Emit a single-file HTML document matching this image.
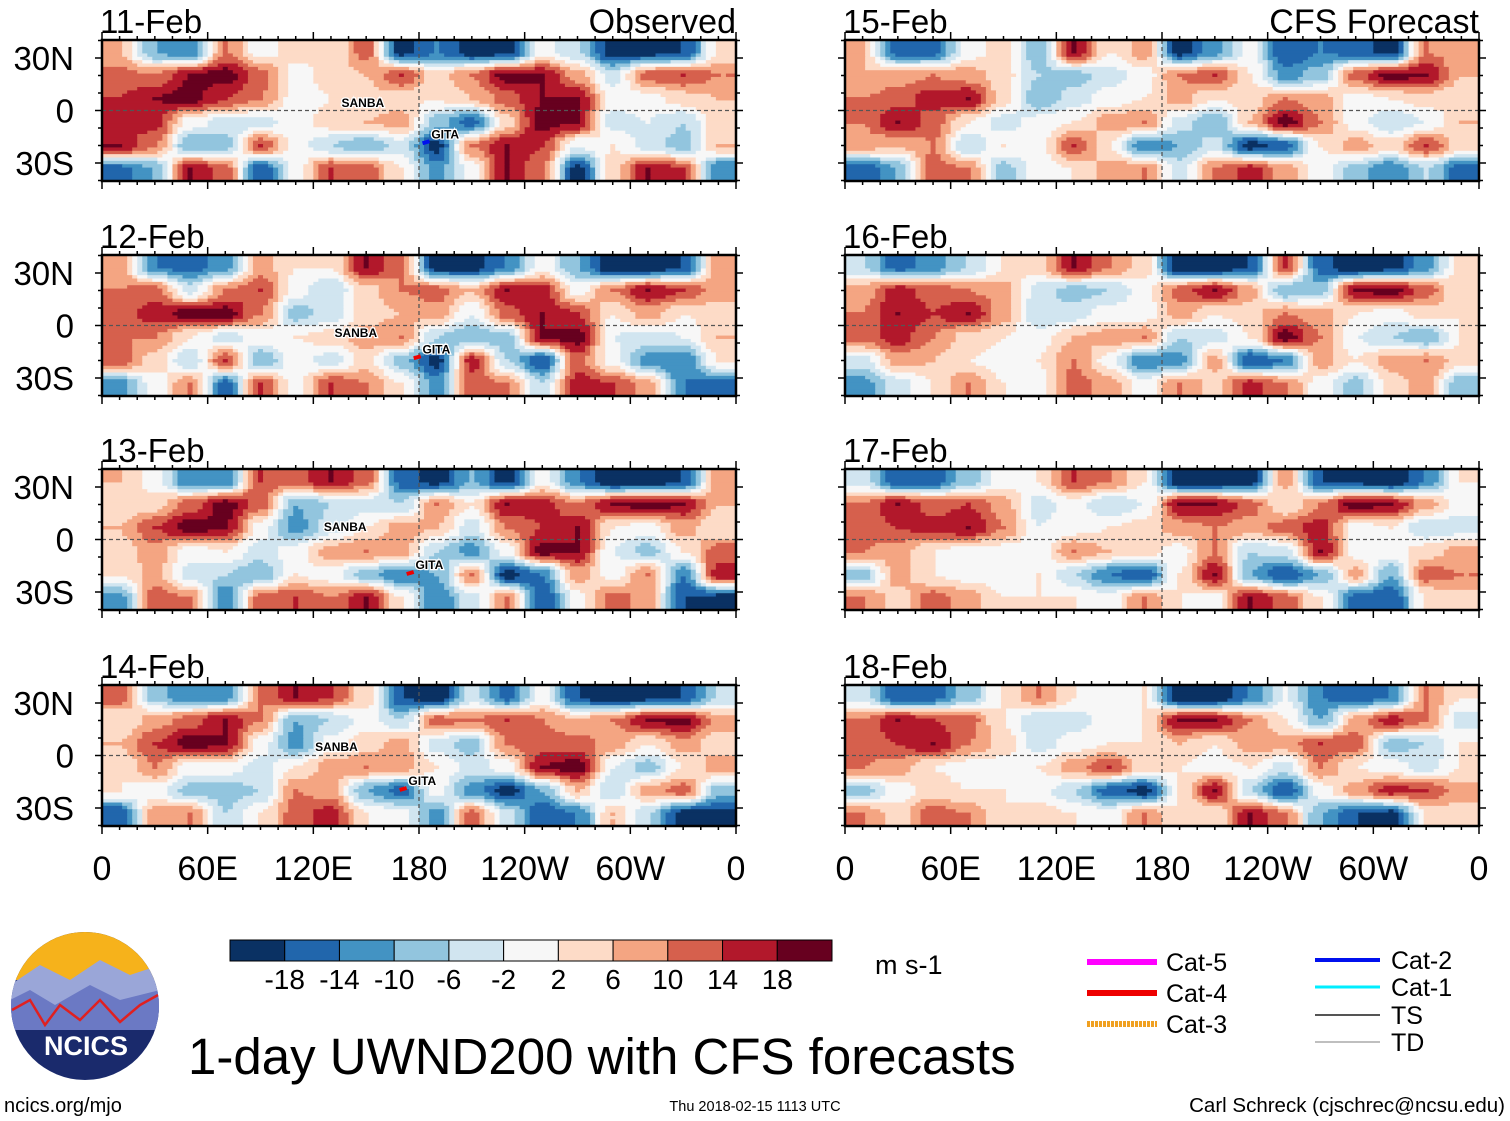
<!DOCTYPE html>
<html><head><meta charset="utf-8"><style>
html,body{margin:0;padding:0;background:#fff;}
svg{display:block;font-family:"Liberation Sans",Arial,sans-serif;}
</style></head><body>
<svg id="fig" width="1510" height="1121" viewBox="0 0 1510 1121" xmlns="http://www.w3.org/2000/svg">
<g id="panels"></g>
<g id="cbar"></g>
<g>
 <defs><clipPath id="lc"><circle cx="85" cy="1006" r="74"/></clipPath></defs>
 <circle cx="85" cy="1006" r="74" fill="#1a2a6c"/>
 <g clip-path="url(#lc)">
  <rect x="10" y="930" width="150" height="50" fill="#f6b21b"/>
  <path d="M10 985 L40 965 L70 980 L100 960 L130 975 L160 965 L160 1010 L10 1010Z" fill="#9aa6d8"/>
  <path d="M10 1000 L30 990 L55 1005 L90 985 L120 1000 L160 990 L160 1030 L10 1030Z" fill="#6b79c4"/>
  <path d="M12 1010 L30 1000 L45 1025 L60 1005 L80 1020 L100 1000 L120 1022 L140 1005 L158 995" fill="none" stroke="#e02020" stroke-width="2.5"/>
 </g>
 <text x="86" y="1055" font-size="27" font-weight="bold" fill="#fff" text-anchor="middle">NCICS</text>
</g>
<text x="188" y="1074" font-size="51">1-day UWND200 with CFS forecasts</text>
<text x="875" y="974" font-size="27">m s-1</text>
<g>
 <line x1="1087" y1="962" x2="1157" y2="962" stroke="#ff00ff" stroke-width="6"/>
 <text x="1166" y="971" font-size="25">Cat-5</text>
 <line x1="1087" y1="993" x2="1157" y2="993" stroke="#ee0000" stroke-width="6"/>
 <text x="1166" y="1002" font-size="25">Cat-4</text>
 <line x1="1087" y1="1024" x2="1157" y2="1024" stroke="#f0a020" stroke-width="6" stroke-dasharray="3 1"/>
 <text x="1166" y="1033" font-size="25">Cat-3</text>
 <line x1="1315" y1="960" x2="1380" y2="960" stroke="#0010ee" stroke-width="4"/>
 <text x="1391" y="969" font-size="25">Cat-2</text>
 <line x1="1315" y1="987" x2="1380" y2="987" stroke="#00eeff" stroke-width="3"/>
 <text x="1391" y="996" font-size="25">Cat-1</text>
 <line x1="1315" y1="1015" x2="1380" y2="1015" stroke="#555" stroke-width="2"/>
 <text x="1391" y="1024" font-size="25">TS</text>
 <line x1="1315" y1="1042" x2="1380" y2="1042" stroke="#aaa" stroke-width="1.5"/>
 <text x="1391" y="1051" font-size="25">TD</text>
</g>
<text x="4" y="1112" font-size="20">ncics.org/mjo</text>
<text x="755" y="1111" font-size="14.5" text-anchor="middle">Thu 2018-02-15 1113 UTC</text>
<text x="1505" y="1112" font-size="20.5" text-anchor="end">Carl Schreck (cjschrec@ncsu.edu)</text>
</svg>
<script>
// 20-degree longitude columns (0E..360), 6 latitude rows (40N..40S); values in m/s
const dates = ["11-Feb","12-Feb","13-Feb","14-Feb","15-Feb","16-Feb","17-Feb","18-Feb"];
const f11 = [
[6,-10,-14,10,0,4,2,12,-20,-14,-20,-20,0,-6,-20,-20,-18,2],
[12,10,18,20,12,0,4,6,14,4,10,20,18,8,-4,12,14,10],
[14,18,20,14,10,0,2,4,4,2,6,12,18,18,0,0,4,6],
[14,16,0,-4,-4,0,4,6,8,-8,-16,4,20,18,-4,-2,-6,4],
[18,10,-10,-8,14,0,-6,-10,-4,-20,10,18,14,-2,2,-4,-8,6],
[-16,-10,18,12,-18,0,14,12,2,-12,0,18,10,-20,4,18,14,-14]];
const f12 = [
[8,-14,-16,-12,8,2,2,18,10,-20,-20,-14,0,-10,-22,-22,-18,8],
[10,12,-4,10,14,0,-6,4,10,12,6,18,16,0,10,18,14,8],
[12,16,20,20,10,-8,-4,4,6,8,-2,12,18,14,2,8,2,4],
[10,10,2,-4,0,2,4,8,10,-6,-10,-8,18,20,-2,-4,-2,6],
[12,4,-6,14,-10,0,-4,4,-8,-20,16,-6,-18,12,0,-12,-14,2],
[-12,0,10,-16,14,0,14,10,2,-12,12,10,-6,16,14,8,-14,-16]];
const f13 = [
[6,0,-14,-14,14,12,18,12,-16,-20,-10,-20,0,-14,-22,-22,-18,8],
[2,4,12,20,12,-10,-6,-4,-6,10,2,18,16,10,18,20,18,6],
[6,14,20,18,0,-12,-4,2,8,6,-4,10,14,18,2,0,8,2],
[4,8,0,2,-4,0,8,10,8,-6,-12,0,20,18,-2,-8,2,12],
[2,8,-4,-6,-10,2,0,-8,-14,-10,10,-20,-14,8,0,10,-14,16],
[-12,12,10,-14,12,14,10,18,2,-14,-4,10,-18,0,12,8,-18,-20]];
const f14 = [
[12,-8,-14,-12,10,18,14,4,-18,-22,-4,-16,0,-18,-22,-20,-18,-6],
[2,8,12,18,10,-10,-6,0,-6,12,10,14,10,6,10,18,20,8],
[6,14,20,18,0,-12,0,4,8,-4,-8,10,12,12,8,2,8,4],
[2,10,0,0,-4,2,8,10,8,2,-4,0,18,20,-2,-8,2,8],
[2,0,-8,-8,-6,10,8,-10,-16,0,-12,-20,-10,6,-6,8,12,-8],
[-18,8,10,-6,2,12,16,2,0,-12,12,-4,-18,-14,6,-6,-20,-20]];
const f15 = [
[6,-16,-16,0,4,-10,18,2,8,-20,-12,0,-18,-14,-16,-20,10,8],
[6,8,10,8,4,-6,-8,-4,0,10,14,2,-12,-8,12,20,18,6],
[10,12,16,18,4,-10,-4,0,2,8,2,4,10,8,0,2,4,2],
[10,18,12,2,-4,0,2,8,10,-4,-10,6,20,10,0,-6,-2,6],
[8,6,10,-6,2,0,14,2,-14,-10,-4,-20,-16,2,8,4,14,4],
[-18,-10,12,10,-8,0,2,8,10,-4,10,16,8,0,-8,-14,-6,-16]];
const f16 = [
[-6,-16,-12,-6,2,4,18,10,4,-22,-22,-18,14,-16,-22,-20,-12,4],
[8,16,12,10,8,-4,-8,-6,0,12,18,8,-10,-8,18,20,12,2],
[10,18,14,18,8,-6,-4,0,0,8,2,4,10,8,2,0,4,2],
[12,16,10,4,2,0,6,8,10,-6,-4,2,20,10,-2,-6,-10,2],
[-4,8,6,2,0,2,10,0,-14,-12,8,-18,-14,8,2,8,10,4],
[-12,-4,2,10,2,0,12,8,0,10,4,16,10,0,-8,4,8,-10]];
const f17 = [
[-4,-18,-16,-8,0,2,14,10,2,-22,-22,-20,8,-18,-20,-22,-14,2],
[10,18,12,14,8,-4,0,-6,-2,18,18,12,2,10,20,18,8,0],
[12,14,16,18,10,-2,0,2,4,8,10,8,12,16,0,2,-6,-4],
[10,8,2,0,0,0,10,6,4,0,10,-6,-4,18,0,0,4,8],
[-8,8,2,0,0,2,-6,-14,-18,2,18,-10,-18,-10,8,-10,12,10],
[10,4,12,8,2,2,2,0,10,2,0,18,12,2,-16,-18,2,4]];
const f18 = [
[-4,-18,-16,-8,2,10,2,0,2,-22,-22,-14,-2,-14,-18,-14,10,2],
[10,18,14,12,2,-6,-4,0,2,18,18,10,2,-10,8,16,10,-4],
[12,14,18,10,4,-4,0,2,2,6,2,8,8,14,12,-8,-6,2],
[10,8,2,0,0,2,8,14,4,2,0,2,-4,10,2,0,-4,2],
[-8,0,4,2,2,0,-6,-16,-20,2,18,-6,-18,0,8,16,14,8],
[10,4,12,10,2,4,2,0,10,2,2,18,10,-10,-18,-20,2,4]];
const fields = [f11,f12,f13,f14,f15,f16,f17,f18];
const levels = [-18,-14,-10,-6,-2,2,6,10,14,18];
const cbLabels = ["-18","-14","-10","-6","-2","2","6","10","14","18"];
const lonTicks = ["0","60E","120E","180","120W","60W","0"];
const latTicks = ["30N","0","30S"];
const latTickVals = [30,0,-30];

const colors = ["#0a3163","#2166ac","#4393c3","#92c5de","#d1e5f0","#f7f7f7","#fddbc7","#f4a582","#d6604d","#b2182b","#67001f"];
const NS="http://www.w3.org/2000/svg";
function mk(tag,attrs,parent){const e=document.createElementNS(NS,tag);for(const k in attrs)e.setAttribute(k,attrs[k]);parent.appendChild(e);return e;}
function colorOf(v){let i=0;while(i<levels.length&&v>=levels[i])i++;return colors[i];}
function sstep(t){return t*t*(3-2*t);}

const PW=634, PH=141;
const panelX=[102,845], panelY=[40,255,469,685];
function xScale(px,lon){return px+lon/360*PW;}
function yScale(py,lat){return py+PH/2-lat/30*52.5;}

const root=document.getElementById('panels');
dates.forEach((d,k)=>{
  const px=panelX[k<4?0:1], py=panelY[k%4];
  const data=fields[k];
  const g=mk('g',{},root);
  
  
  const nc=data[0].length, nr=data.length;
  const cw=PW/nc, rh=PH/nr, S=7;
  const subW=cw/S, subH=rh/S;
  const val=(r,c)=>data[Math.max(0,Math.min(nr-1,r))][Math.max(0,Math.min(nc-1,c))];
  for(let j=0;j<nr*S;j++){
    const fy=(j+0.5)/S-0.5, r0=Math.floor(fy), ty=sstep(fy-r0);
    let runStart=0, runCol=null;
    for(let i=0;i<=nc*S;i++){
      let col=null;
      if(i<nc*S){
        const fx=(i+0.5)/S-0.5, c0=Math.floor(fx), tx=sstep(fx-c0);
        const v=(1-ty)*((1-tx)*val(r0,c0)+tx*val(r0,c0+1))+ty*((1-tx)*val(r0+1,c0)+tx*val(r0+1,c0+1));
        col=colorOf(v);
      }
      if(col!==runCol){
        if(runCol!==null){
          const cell=mk('rect',{x:(px+runStart*subW).toFixed(2),y:(py+j*subH).toFixed(2),width:((i-runStart)*subW+0.6).toFixed(2),height:(subH+0.6).toFixed(2),fill:runCol},g);
          
          
        }
        runStart=i; runCol=col;
      }
    }
  }
  const eq=mk('line',{x1:px,x2:px+PW,y1:yScale(py,0),y2:yScale(py,0),stroke:'#555','stroke-width':1.3,'stroke-dasharray':'4 3'},g);
  
  
  const dl=mk('line',{x1:xScale(px,180),x2:xScale(px,180),y1:py,y2:py+PH,stroke:'#555','stroke-width':1.3,'stroke-dasharray':'4 3'},g);
  
  
  const fr=mk('rect',{x:px,y:py,width:PW,height:PH,fill:'none',stroke:'#000','stroke-width':2.5},g);
  
  
  for(let lon=0;lon<=360;lon+=10){
    const x=xScale(px,lon), L=lon%60===0?8:4;
    mk('line',{x1:x,x2:x,y1:py+PH,y2:py+PH+L,stroke:'#000','stroke-width':1.5},g);
    mk('line',{x1:x,x2:x,y1:py,y2:py-L,stroke:'#000','stroke-width':1.5},g);
  }
  for(let lat=-40;lat<=40;lat+=10){
    const y=yScale(py,lat), L=lat%30===0?7:4;
    mk('line',{x1:px,x2:px-L,y1:y,y2:y,stroke:'#000','stroke-width':1.5},g);
    mk('line',{x1:px+PW,x2:px+PW+L,y1:y,y2:y,stroke:'#000','stroke-width':1.5},g);
  }
  const t=mk('text',{x:px-2,y:py-7,'font-size':33},g); t.textContent=d;
  
  
  if(k===0||k===4){
    const h=mk('text',{x:px+PW,y:py-7,'font-size':34,'text-anchor':'end'},g);
    h.textContent=k===0?'Observed':'CFS Forecast';
    
    
  }
  if(k<4){
    latTicks.forEach((lb,m)=>{
      const tt=mk('text',{x:74,y:yScale(py,latTickVals[m])+12,'font-size':33,'text-anchor':'end'},g);
      tt.textContent=lb;
      
      
    });
    const sb=mk('text',{x:xScale(px,[136,132,126,121][k]),y:py+[67,82,62,66][k],'font-size':12,'font-weight':'bold',stroke:'#fff','stroke-width':2.5,'paint-order':'stroke'},g);
    sb.textContent='SANBA';
    
    
    const gx=[186,181,177,173][k], gy=[-17,-17,-18,-18][k];
    const gt=mk('line',{x1:xScale(px,gx-4),x2:xScale(px,gx),y1:yScale(py,gy)+3,y2:yScale(py,gy)+1,stroke:k===0?'#0010ee':'#ee0000','stroke-width':4},g);
    
    
    const gl=mk('text',{x:xScale(px,gx+1),y:yScale(py,gy)-2,'font-size':12,'font-weight':'bold',stroke:'#fff','stroke-width':2.5,'paint-order':'stroke'},g);
    gl.textContent='GITA';
    
    
  }
  if(k%4===3){
    lonTicks.forEach((lb,m)=>{
      const tt=mk('text',{x:xScale(px,m*60),y:880,'font-size':34,'text-anchor':'middle'},g);
      tt.textContent=lb;
      
      
    });
  }
});

const cb=document.getElementById('cbar');
const cbx=230, cby=940, cbw=602/colors.length, cbh=21;
colors.forEach((c,i)=>{
  const r=mk('rect',{x:cbx+i*cbw,y:cby,width:cbw,height:cbh,fill:c,stroke:'#000','stroke-width':1},cb);
  
  
});
cbLabels.forEach((lb,i)=>{
  const tt=mk('text',{x:cbx+(i+1)*cbw,y:989,'font-size':28,'text-anchor':'middle'},cb);
  tt.textContent=lb;
  
  
});
</script>
</body></html>
